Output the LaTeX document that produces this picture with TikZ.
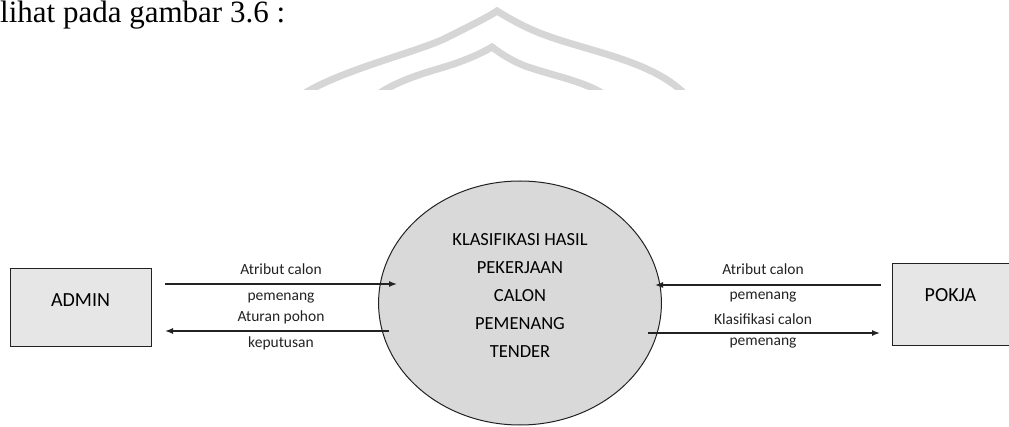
\documentclass[tikz,border=0pt]{standalone}
\usepackage{fontspec}
\setmainfont{Carlito}
\newfontfamily\serifx{Liberation Serif}
\usetikzlibrary{shapes.geometric,arrows.meta}
\definecolor{boxgray}{HTML}{E6E6E6}
\definecolor{circgray}{HTML}{D9D9D9}
\definecolor{wmgray}{HTML}{D6D6D6}
\definecolor{ink}{HTML}{222222}
\tikzset{
  entity/.style={draw=ink, line width=1pt, fill=boxgray, minimum width=141pt, minimum height=78pt, inner sep=0pt},
  process/.style={ellipse, draw=ink, line width=1pt, fill=circgray, minimum width=228pt, minimum height=244pt, inner sep=0pt, align=center},
  flow/.style={draw=ink, line width=1.4pt, -{Latex[length=8pt,width=6pt]}},
  lbl/.style={font=\fontsize{15.5}{18}\selectfont, text=ink, inner sep=0pt},
  wm/.style={draw=wmgray, line width=7pt, line cap=round}
}
\begin{document}
\begin{tikzpicture}[x=1pt,y=-1pt]
\useasboundingbox (0,0) rectangle (1009,427);
% watermark
\begin{scope}
\clip (0,0) rectangle (1009,90);
\draw[wm] (295,100) .. controls (330,72) and (420,52) .. (448,37) .. controls (470,26) and (490,16) .. (497,11)
  .. controls (505,16) and (525,28) .. (545,35) .. controls (590,52) and (660,62) .. (690,100);
\draw[wm] (370,100) .. controls (400,76) and (440,70) .. (462,61) .. controls (478,55) and (487,50) .. (492,47)
  .. controls (500,53) and (510,60) .. (525,66) .. controls (560,78) and (590,82) .. (612,100);
\end{scope}
% top text
\node[anchor=base west, inner sep=0pt, font=\serifx\fontsize{31}{36}\selectfont] (intro) at (0,22.5) {lihat pada gambar 3.6 :};
% nodes
\node[entity, font=\fontsize{20}{24}\selectfont] (admin) at (80.5,308) {\raisebox{1pt}[0pt][0pt]{ADMIN}};
\node[entity, minimum width=117pt, minimum height=82pt, font=\fontsize{20}{24}\selectfont] (pokja) at (950.5,305) {\raisebox{3pt}[0pt][0pt]{POKJA}};
\node[process, font=\fontsize{18.5}{28}\selectfont] (proc) at (520,303) {\raisebox{3pt}[0pt][0pt]{\parbox{200pt}{\centering KLASIFIKASI HASIL\\ PEKERJAAN\\ CALON\\ PEMENANG\\ TENDER}}};
% connector ends
\coordinate (a1s) at (165,284);
\coordinate (a1e) at (397,284);
\coordinate (a2s) at (389,331);
\coordinate (a2e) at (165,331);
\coordinate (p1s) at (881,285);
\coordinate (p1e) at (655,285);
\coordinate (p2s) at (648,333);
\coordinate (p2e) at (880,333);
\draw[flow] (a1s) -- (a1e);
\draw[flow] (a2s) -- (a2e);
\draw[flow] (p1s) -- (p1e);
\draw[flow] (p2s) -- (p2e);
% labels
\node[lbl] (l1a) at (281,269) {Atribut calon};
\node[lbl] (l1b) at (281,298) {pemenang};
\node[lbl] (l2a) at (281,317) {Aturan pohon};
\node[lbl] (l2b) at (281,343) {keputusan};
\node[lbl] (r1a) at (763,269) {Atribut calon};
\node[lbl] (r1b) at (763,297) {pemenang};
\node[lbl] (r2a) at (763,319) {Klasifikasi calon};
\node[lbl] (r2b) at (763,343) {pemenang};
\end{tikzpicture}
\end{document}
